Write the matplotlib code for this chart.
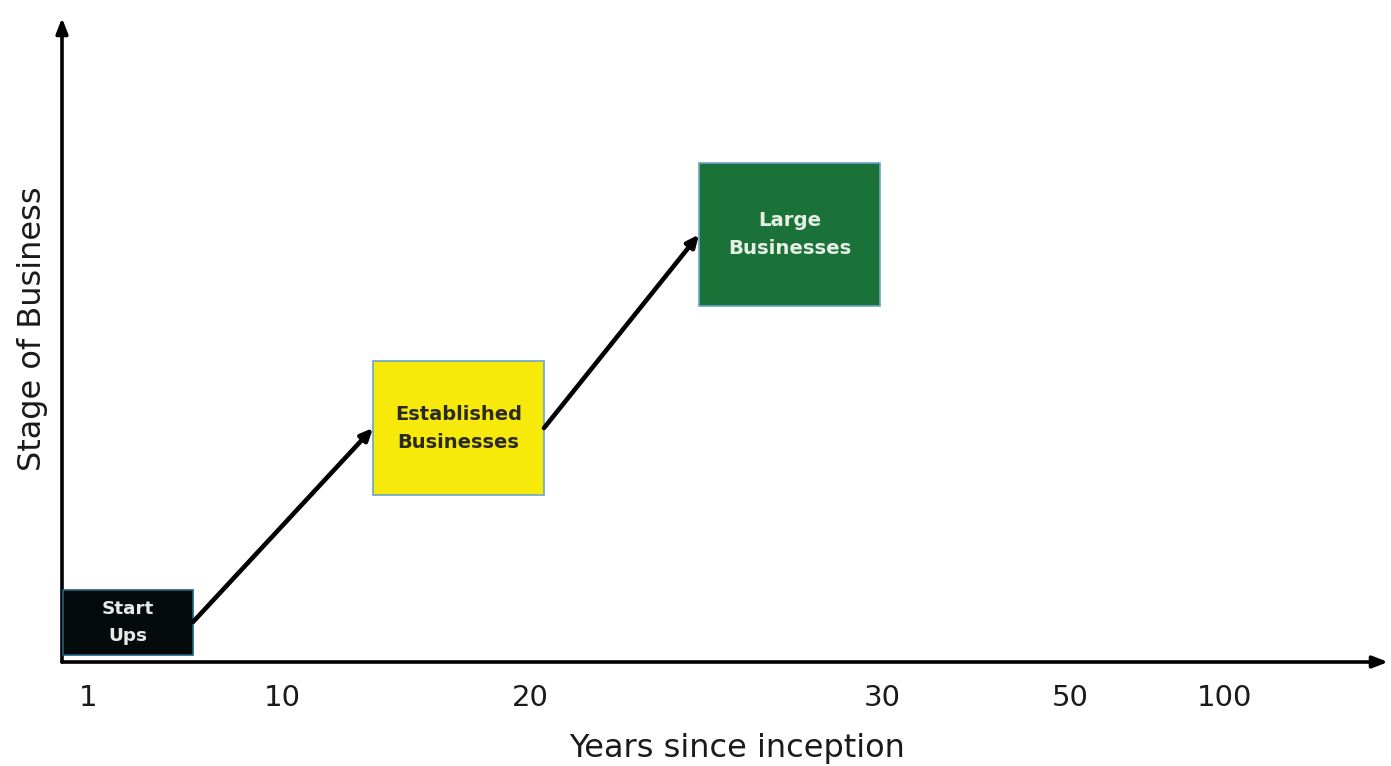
import matplotlib
matplotlib.use("Agg")
import matplotlib.pyplot as plt
from matplotlib.patches import Rectangle

# ---- data ----
year_ticks = ["1", "10", "20", "30", "50", "100"]
stages = ["Start\nUps", "Established\nBusinesses", "Large\nBusinesses"]
x_title = "Years since inception"
y_title = "Stage of Business"

# ---- layout (diagram coordinates, not data values) ----
tick_pos = [26, 220, 468, 820, 1008, 1163]
box_x0 = [1, 311, 637]
box_x1 = [131, 482, 818]
box_y0 = [7, 167, 356]
box_y1 = [72, 301, 499]
box_fill = ["#050a0c", "#f7ea0a", "#1b7239"]
box_edge = ["#1f5f80", "#6aa6c6", "#6aa6c6"]
box_text = ["#e8e8e8", "#2a2a20", "#e6efe4"]
box_fs = [13.2, 14, 14.2]

W, H = 1391, 766
fig = plt.figure(figsize=(W / 100, H / 100), dpi=100)
ax = fig.add_axes([62 / W, (H - 662) / H, 1326 / W, 644 / H])
ax.set_xlim(0, 1326)
ax.set_ylim(0, 644)
for s in ax.spines.values():
    s.set_visible(False)
ax.set_yticks([])
ax.set_xticks(tick_pos, year_ticks)
ax.tick_params(axis="x", length=0, pad=32, labelsize=21, labelcolor="#1a1a1a")
for t in ax.get_xticklabels():
    t.set_va("baseline")
ax.set_xlabel(x_title, fontsize=23, color="#1a1a1a", va="baseline")
ax.xaxis.set_label_coords((737 - 62) / 1326, -(757 - 662) / 644, transform=ax.transAxes)
ax.set_ylabel(y_title, fontsize=23, color="#1a1a1a", va="center")
ax.yaxis.set_label_coords(-(62 - 33) / 1326, (662 - 329) / 644)

# axis arrows
arrow_kw = dict(arrowstyle="-|>,head_length=0.9,head_width=0.35", color="black", lw=2.6,
                shrinkA=0, shrinkB=0)
ax.annotate("", xy=(1.0, 0), xytext=(0, 0), xycoords="axes fraction", arrowprops=arrow_kw,
            annotation_clip=False)
ax.annotate("", xy=(0, 1.0), xytext=(0, 0), xycoords="axes fraction", arrowprops=arrow_kw,
            annotation_clip=False)

# boxes
for i, lab in enumerate(stages):
    ax.add_patch(Rectangle((box_x0[i], box_y0[i]), box_x1[i] - box_x0[i], box_y1[i] - box_y0[i],
                           facecolor=box_fill[i], edgecolor=box_edge[i], lw=1.2, zorder=3))
    ax.text((box_x0[i] + box_x1[i]) / 2, (box_y0[i] + box_y1[i]) / 2, lab, ha="center",
            va="center", fontsize=box_fs[i], fontweight="bold", color=box_text[i],
            linespacing=1.6, zorder=4)

# connecting arrows
conn_kw = dict(arrowstyle="-|>,head_length=0.7,head_width=0.32", color="black", lw=3.3,
               shrinkA=0, shrinkB=0)
for i in range(len(stages) - 1):
    ymid_a = (box_y0[i] + box_y1[i]) / 2
    ymid_b = (box_y0[i + 1] + box_y1[i + 1]) / 2
    ax.annotate("", xy=(box_x0[i + 1], ymid_b), xytext=(box_x1[i], ymid_a if i > 0 else box_y0[i] + 33),
                arrowprops=conn_kw)

fig.savefig("out.png", dpi=100)
